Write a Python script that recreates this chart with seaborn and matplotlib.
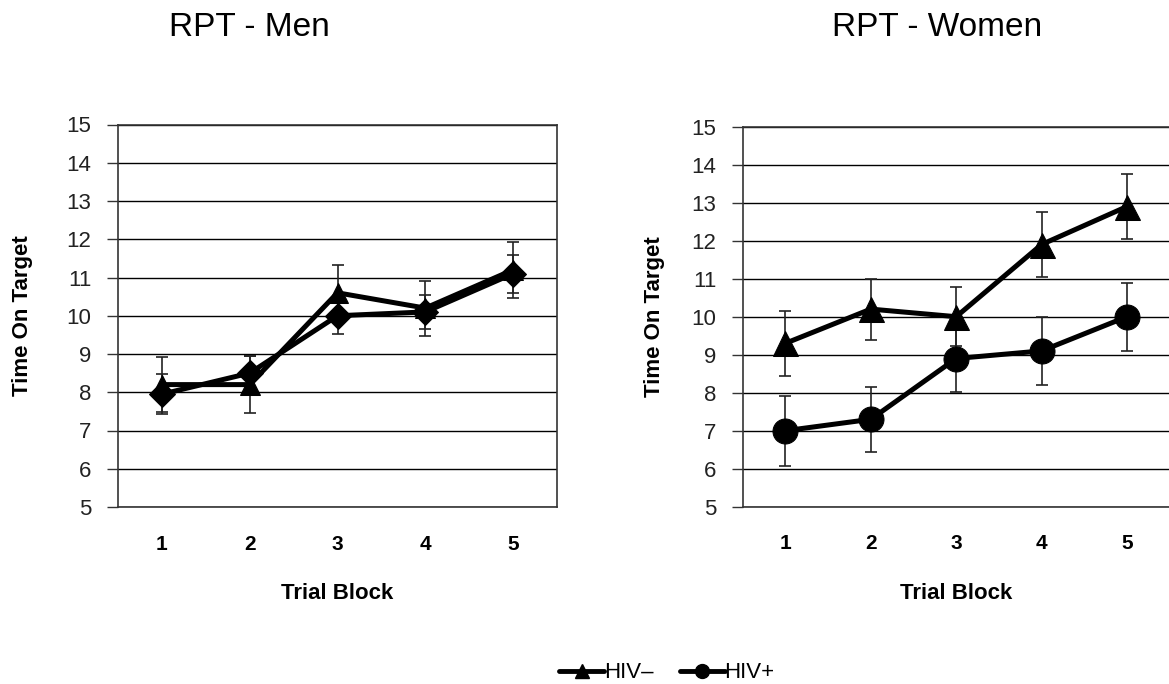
import numpy as np
import pandas as pd
import matplotlib
matplotlib.use("Agg")
import matplotlib.pyplot as plt
import seaborn as sns
from matplotlib.lines import Line2D

# ---- data ----
blocks = [1, 2, 3, 4, 5]
men_neg = [8.2, 8.2, 10.6, 10.2, 11.2]
men_neg_err = [0.72, 0.75, 0.73, 0.72, 0.73]
men_pos = [7.95, 8.5, 10.0, 10.1, 11.1]
men_pos_err = [0.52, 0.45, 0.48, 0.45, 0.5]
women_neg = [9.3, 10.2, 10.0, 11.9, 12.9]
women_neg_err = [0.85, 0.8, 0.78, 0.85, 0.85]
women_pos = [7.0, 7.3, 8.9, 9.1, 10.0]
women_pos_err = [0.92, 0.85, 0.87, 0.9, 0.9]
groups = ["HIV–", "HIV+"]
titles = ["RPT - Men", "RPT - Women"]
yticks = list(range(5, 16))

sns.set_theme(style="white")
plt.rcParams["font.family"] = ["Liberation Sans", "DejaVu Sans"]
plt.rcParams["text.color"] = "black"
plt.rcParams["axes.labelcolor"] = "black"

fig = plt.figure(figsize=(11.69, 6.84), dpi=100)
W, H = 1169, 684
ax1 = fig.add_axes([118 / W, 1 - 507 / H, 439 / W, (507 - 124.5) / H])
ax2 = fig.add_axes([742.7 / W, 1 - 506.7 / H, 427 / W, (506.7 - 126.7) / H])

panels = [
    (ax1, men_neg, men_neg_err, men_pos, men_pos_err, "D", 15, 13, (33 - 118) / 439),
    (ax2, women_neg, women_neg_err, women_pos, women_pos_err, "o", 18, 18, (665 - 742.7) / 427),
]

for ax, neg, neg_e, pos, pos_e, pos_marker, msz_tri, msz_pos, ylab_x in panels:
    df = pd.DataFrame({
        "block": blocks * 2,
        "value": list(neg) + list(pos),
        "group": [groups[0]] * 5 + [groups[1]] * 5,
    })
    for y in yticks:
        ax.axhline(y, color="black", lw=1.0, zorder=0)
    ax.errorbar(blocks, neg, yerr=neg_e, fmt="none", ecolor="#222222",
                elinewidth=1.2, capsize=4, capthick=1.2, zorder=2)
    ax.errorbar(blocks, pos, yerr=pos_e, fmt="none", ecolor="#222222",
                elinewidth=1.2, capsize=4, capthick=1.2, zorder=2)
    sub_neg = df[df["group"] == groups[0]]
    sub_pos = df[df["group"] == groups[1]]
    sns.lineplot(data=sub_neg, x="block", y="value", ax=ax, color="black",
                 lw=3.6, marker="^", markersize=msz_tri, markeredgecolor="black",
                 legend=False, zorder=3)
    sns.lineplot(data=sub_pos, x="block", y="value", ax=ax, color="black",
                 lw=3.6, marker=pos_marker, markersize=msz_pos, markeredgecolor="black",
                 legend=False, zorder=3)
    ax.set_xlim(0.5, 5.5)
    ax.set_ylim(5, 15)
    ax.set_yticks(yticks)
    ax.set_yticklabels([str(v) for v in yticks], fontsize=16, color="#222222")
    ax.set_xticks(blocks)
    ax.set_xticklabels([str(b) for b in blocks], fontsize=15, fontweight="bold",
                       color="black")
    ax.tick_params(axis="x", length=0, pad=20)
    ax.tick_params(axis="y", direction="out", length=8, width=1, color="#333333",
                   left=True, pad=11)
    ax.set_xlabel("Trial Block", fontsize=16, fontweight="bold", labelpad=21)
    ax.set_ylabel("Time On Target", fontsize=16, fontweight="bold")
    ax.yaxis.set_label_coords(ylab_x, 0.5)
    for s in ax.spines.values():
        s.set_color("#333333")
        s.set_linewidth(1.2)
        s.set_visible(True)
    ax.set_facecolor("white")

ax2.spines["right"].set_visible(False)

fig.text(249 / W, 1 - 28 / H, titles[0], ha="center", va="center", fontsize=24)
fig.text(937 / W, 1 - 28 / H, titles[1], ha="center", va="center", fontsize=24)

handles = [
    Line2D([], [], color="black", lw=3.5, marker="^", markersize=10),
    Line2D([], [], color="black", lw=3.5, marker="o", markersize=10),
]
fig.legend(handles, groups, loc="center", bbox_to_anchor=(667 / W, 1 - 673 / H),
           ncol=2, frameon=False, fontsize=16, handlelength=2.0, handletextpad=0.0,
           columnspacing=1.2)

fig.savefig("out.png", dpi=100)
